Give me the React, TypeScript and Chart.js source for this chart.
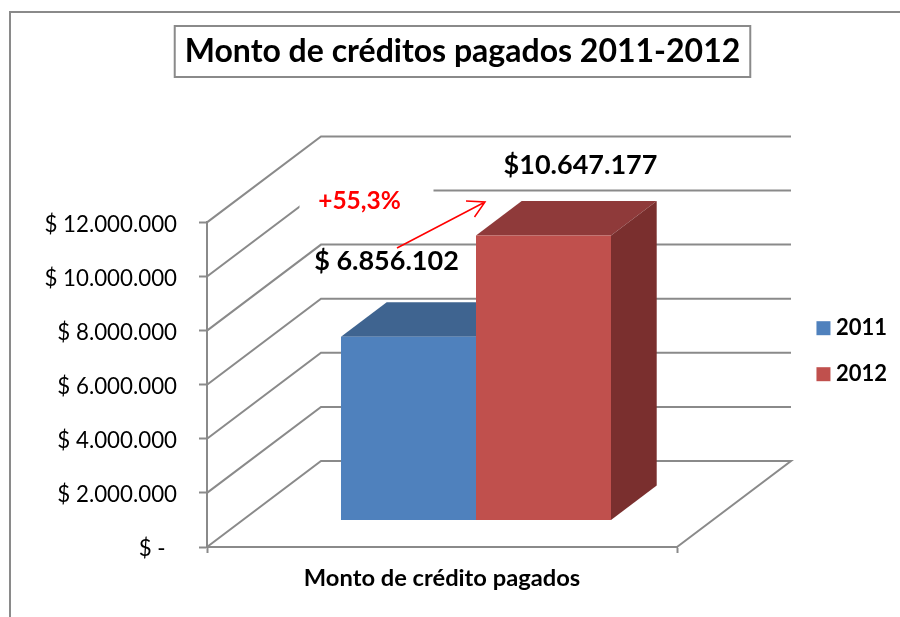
import React, { useEffect, useRef } from "react";
import { Chart, registerables } from "chart.js";

Chart.register(...registerables);

const categories = ["Monto de crédito pagados"];
const series2011 = [6856102];
const series2012 = [10647177];
const seriesNames = ["2011", "2012"];
const valueLabels = ["$ 6.856.102", "$10.647.177"];
const changeLabel = "+55,3%";
const chartTitle = "Monto de créditos pagados 2011-2012";
const axisMax = 12000000;
const axisStep = 2000000;
const barAxisMax = 12150000;

const GRAY = "#8a8a8a";
const WALL_DX = 114;
const WALL_DY = 86;
const BAR_DX = 34;
const BAR_DY = 27;
const DEPTH_DX = 45.7;
const DEPTH_DY = 34.5;
const faceColors = [
  { front: "#4F81BD", top: "#3F6490", side: "#355678" },
  { front: "#C0504D", top: "#8F3A3A", side: "#7A2F2E" },
];
const FONT = "Lato, sans-serif";

const formatTick = (v: number) => {
  if (v === 0) return "$ -  ";
  return "$ " + Math.round(v).toString().replace(/\B(?=(\d{3})+(?!\d))/g, ".");
};

const poly = (ctx: CanvasRenderingContext2D, pts: number[][], fill: string) => {
  ctx.beginPath();
  pts.forEach((p, i) => (i ? ctx.lineTo(p[0], p[1]) : ctx.moveTo(p[0], p[1])));
  ctx.closePath();
  ctx.fillStyle = fill;
  ctx.fill();
};

const threeD = {
  id: "threeD",
  beforeDraw(chart: any) {
    const { ctx, width } = chart;
    ctx.save();
    ctx.fillStyle = "#fff";
    ctx.fillRect(0, 0, chart.width, chart.height);
    ctx.strokeStyle = GRAY;
    ctx.lineWidth = 2;
    ctx.beginPath();
    ctx.moveTo(10, chart.height);
    ctx.lineTo(10, 12);
    ctx.lineTo(width, 12);
    ctx.stroke();
    // title frame
    const t = chart.titleBlock;
    const cx = (t.left + t.right) / 2;
    ctx.font = t.options.font.weight + " " + t.options.font.size + "px " + FONT;
    const tw = ctx.measureText(chartTitle).width;
    ctx.strokeRect(cx - tw / 2 - 10, 26, tw + 20, 51);
    ctx.restore();
  },
  beforeDatasetsDraw(chart: any) {
    const { ctx, chartArea, scales } = chart;
    ctx.save();
    ctx.strokeStyle = GRAY;
    ctx.lineWidth = 2;
    scales.y.ticks.forEach((tk: any) => {
      const y = scales.y.getPixelForValue(tk.value);
      ctx.beginPath();
      ctx.moveTo(chartArea.left, y);
      ctx.lineTo(chartArea.left + WALL_DX, y - WALL_DY);
      ctx.lineTo(chartArea.right + WALL_DX, y - WALL_DY);
      if (tk.value === 0) ctx.lineTo(chartArea.right, y);
      ctx.stroke();
    });
    ctx.restore();
    // top and side faces, back to front; the front faces are the real bars
    [0, 1].forEach((index) => {
      const colors = faceColors[index];
      chart.getDatasetMeta(index).data.forEach((b: any) => {
        const l = b.x - b.width / 2 + BAR_DX;
        const r = b.x + b.width / 2 + BAR_DX;
        const t = b.y - BAR_DY;
        const bt = b.base - BAR_DY;
        poly(ctx, [[l, t], [r, t], [r + DEPTH_DX, t - DEPTH_DY], [l + DEPTH_DX, t - DEPTH_DY]], colors.top);
        poly(ctx, [[r, t], [r + DEPTH_DX, t - DEPTH_DY], [r + DEPTH_DX, bt - DEPTH_DY], [r, bt]], colors.side);
      });
    });
  },
  beforeDatasetDraw(chart: any) {
    chart.ctx.save();
    chart.ctx.translate(BAR_DX, -BAR_DY);
  },
  afterDatasetDraw(chart: any) {
    chart.ctx.restore();
  },
  afterDatasetsDraw(chart: any) {
    const { ctx } = chart;
    const b0 = chart.getDatasetMeta(0).data[0];
    const b1 = chart.getDatasetMeta(1).data[0];
    ctx.save();
    // white box behind the annotation, as in the reference
    ctx.fillStyle = "#fff";
    ctx.fillRect(b0.x - 75, 183, 134, 32);
    ctx.textAlign = "center";
    ctx.textBaseline = "middle";
    ctx.fillStyle = "#000";
    ctx.font = "bold 27px " + FONT;
    ctx.fillText(valueLabels[0], b0.x + BAR_DX - 22, 261);
    ctx.fillText(valueLabels[1], b1.x + BAR_DX + 37, 165);
    ctx.fillStyle = "#FF0000";
    ctx.font = "bold 24.5px " + FONT;
    ctx.fillText(changeLabel, b0.x + BAR_DX - 49, 201);
    ctx.strokeStyle = "#FF0000";
    ctx.lineWidth = 1.5;
    ctx.beginPath();
    ctx.moveTo(397, 248);
    ctx.lineTo(485, 202);
    ctx.moveTo(466, 201);
    ctx.lineTo(485, 202);
    ctx.lineTo(474.5, 217);
    ctx.stroke();
    ctx.restore();
  },
};

export default function App() {
  const ref = useRef<HTMLCanvasElement>(null);
  useEffect(() => {
    const chart = new Chart(ref.current as HTMLCanvasElement, {
      type: "bar",
      plugins: [threeD],
      data: {
        labels: categories,
        datasets: [
          { label: seriesNames[0], data: series2011, backgroundColor: faceColors[0].front, yAxisID: "y1", categoryPercentage: 0.5745, barPercentage: 1, pointStyle: "rect" },
          { label: seriesNames[1], data: series2012, backgroundColor: faceColors[1].front, yAxisID: "y1", categoryPercentage: 0.5745, barPercentage: 1, pointStyle: "rect" },
        ],
      },
      options: {
        responsive: false,
        animation: false,
        layout: { padding: { left: 28, right: 3, top: 0, bottom: 0 } },
        plugins: {
          tooltip: { enabled: false },
          title: {
            display: true,
            text: chartTitle,
            color: "#000",
            font: { family: FONT, size: 32, weight: "bold", lineHeight: 1.2 },
            padding: { top: 32, bottom: 152 },
          },
          legend: {
            position: "right",
            align: "start",
            title: { display: true, text: " ", font: { size: 1, family: FONT }, padding: { top: 292, bottom: 0 } },
            labels: {
              usePointStyle: true,
              pointStyle: "rect",
              boxWidth: 3,
              boxHeight: 14,
              padding: 24,
              color: "#000",
              font: { family: FONT, size: 22, weight: "bold" },
            },
          },
        },
        scales: {
          x: {
            offset: true,
            grid: { drawOnChartArea: false, tickLength: 6, color: GRAY, offset: true, tickWidth: 2 },
            border: { color: GRAY, width: 2 },
            ticks: { color: "#000", maxRotation: 0, padding: 11, font: { family: FONT, size: 23.7, weight: "bold" } },
            afterFit: (s: any) => { s.height = 70; },
          },
          y: {
            position: "left",
            min: 0,
            max: axisMax,
            grid: { drawOnChartArea: false, tickLength: 8, color: GRAY, tickWidth: 2 },
            border: { color: GRAY, width: 2 },
            ticks: { stepSize: axisStep, color: "#000", padding: 22, labelOffset: 2, font: { family: FONT, size: 22.3 }, callback: (v: any) => formatTick(Number(v)) },
            afterFit: (s: any) => { s.width = 179; },
          },
          y1: {
            position: "right",
            min: 0,
            max: barAxisMax,
            grid: { display: false },
            border: { display: false },
            ticks: { display: false },
            afterFit: (s: any) => { s.width = 900 - 3 - 677 - (s.chart.legend ? s.chart.legend.width : 110); },
          },
        },
      },
    } as any);
    return () => chart.destroy();
  }, []);
  return (
    <div style={{ position: "absolute", left: 0, top: 0, width: 900, height: 617 }}>
      <canvas ref={ref} width={900} height={617} style={{ display: "block" }} />
    </div>
  );
}
